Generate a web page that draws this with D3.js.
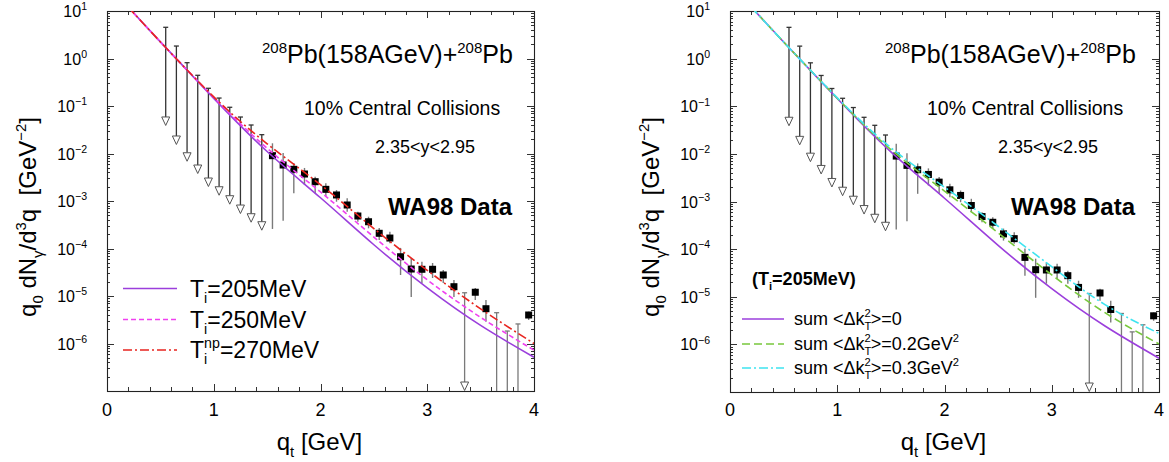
<!DOCTYPE html>
<html><head><meta charset="utf-8">
<script src="https://cdn.jsdelivr.net/npm/d3@7"></script>
<style>
body{margin:0;background:#fff}
svg{display:block}
text{font-family:"Liberation Sans",Arial,Helvetica,sans-serif;fill:#000}
</style>
</head><body>
<svg id="c" width="1169" height="462"></svg>
<script>
// ---------- data ----------
const xTicks = [0, 1, 2, 3, 4];
const xTickLabels = ["0", "1", "2", "3", "4"];
const yDecades = [1, 0, -1, -2, -3, -4, -5, -6];   // labelled decades (10^n)
const yDomain = [1e-7, 1e1];

// model curves (q_t in GeV, yield in GeV^-2)
const curveQ = [0.2, 0.5, 1.0, 1.5, 2.0, 2.5, 3.0, 3.5, 4.0];
const T205   = [12.0, 2.24, 0.145, 0.0110, 1.17e-3, 1.20e-4, 1.48e-5, 2.40e-6, 5.13e-7];
const T250   = [12.0, 2.24, 0.151, 0.0129, 1.55e-3, 1.74e-4, 2.19e-5, 3.55e-6, 7.24e-7];
const T270np = [12.0, 2.24, 0.156, 0.0160, 2.20e-3, 2.63e-4, 3.47e-5, 5.37e-6, 1.00e-6];
const kT0    = T205;
const kT02   = [12.0, 2.24, 0.148, 0.0123, 1.66e-3, 2.19e-4, 2.88e-5, 4.57e-6, 1.02e-6];
const kT03   = [12.0, 2.24, 0.151, 0.0135, 2.00e-3, 3.02e-4, 4.27e-5, 6.76e-6, 1.70e-6];

// WA98 upper limits
const limQ  = [0.55, 0.65, 0.75, 0.85, 0.95, 1.05, 1.15, 1.25, 1.35, 1.45, 3.35, 3.65, 3.75, 3.85];
const limHi = [4.54, 1.83, 0.816, 0.443, 0.236, 0.147, 0.094, 0.0586, 0.0398, 0.0249, 1.17e-5, 4.45e-6, 1.83e-6, 2.58e-6];
const limLo = [0.038, 0.0151, 0.0067, 0.0037, 0.00197, 0.00129, 8.36e-4, 5.32e-4, 3.49e-4, 2.37e-4, 1e-7, 1e-7, 1e-7, 1e-7];
const limArrow = [1, 1, 1, 1, 1, 1, 1, 1, 1, 1, 1, 0, 0, 0];

// WA98 data points
const ptQ   = [1.55, 1.65, 1.75, 1.85, 1.95, 2.05, 2.15, 2.25, 2.35, 2.45, 2.55, 2.65, 2.75, 2.85, 2.95, 3.05, 3.15, 3.25, 3.45, 3.55, 3.95];
const ptVal = [9.0e-3, 5.73e-3, 4.65e-3, 3.70e-3, 2.55e-3, 1.76e-3, 1.34e-3, 8.24e-4, 4.83e-4, 3.66e-4, 2.09e-4, 1.66e-4, 6.71e-5, 3.70e-5, 3.65e-5, 3.65e-5, 2.77e-5, 1.57e-5, 1.20e-5, 5.40e-6, 3.98e-6];
const ptLo  = [2.58e-4, 3.85e-4, 1.45e-3, 2.17e-3, 1.45e-3, 1.23e-3, 9.66e-4, 5.96e-4, 3.66e-4, 2.66e-4, 1.51e-4, 1.29e-4, 2.77e-5, 9.5e-6, 1.88e-5, 2.39e-5, 1.88e-5, 9.5e-6, 8.2e-6, 2.88e-6, 3.13e-6];
const ptHi  = [1.64e-2, 1.03e-2, 6.3e-3, 4.96e-3, 3.25e-3, 2.36e-3, 1.70e-3, 1.14e-3, 5.96e-4, 4.67e-4, 2.70e-4, 2.26e-4, 1.03e-4, 6.3e-5, 5.27e-5, 4.95e-5, 3.52e-5, 2.17e-5, 1.47e-5, 8.2e-6, 4.68e-6];

const leftSeries  = [T205, T250, T270np];
const rightSeries = [kT0, kT02, kT03];

// ---------- helpers ----------
const svg = d3.select("#c");

function rich(sel, parts, size) {
  let cur = 0;
  parts.forEach(p => {
    const k = p.k || "n";
    const fs = k === "n" ? size : size * (p.r || 0.62);
    const off = k === "sub" ? size * 0.28 : k === "sup" ? -size * 0.42 : 0;
    const ts = sel.append("tspan").attr("font-size", fs).attr("dy", (off - cur).toFixed(2)).text(p.t);
    if (p.stack) {
      const prev = ts.node().previousSibling;
      ts.attr("dx", -prev.getComputedTextLength());
    }
    cur = off;
  });
  return sel;
}

function panel(box, id) {
  const g = svg.append("g");
  const x = d3.scaleLinear().domain([0, 4]).range([box.x0, box.x1]);
  const y = d3.scaleLog().domain(yDomain).range([box.y1, box.y0]);

  g.append("clipPath").attr("id", id).append("rect")
    .attr("x", box.x0).attr("y", box.y0).attr("width", box.x1 - box.x0).attr("height", box.y1 - box.y0);

  // ticks
  const tk = g.append("g").attr("stroke", "#333").attr("stroke-width", 1);
  d3.range(0, 4.001, 0.2).forEach(v => {
    const major = xTicks.some(t => Math.abs(t - v) < 1e-6);
    const L = major ? 7 : 4;
    const px = Math.round(x(v)) + 0.5;
    tk.append("line").attr("x1", px).attr("x2", px).attr("y1", box.y1).attr("y2", box.y1 - L);
    tk.append("line").attr("x1", px).attr("x2", px).attr("y1", box.y0).attr("y2", box.y0 + L);
  });
  for (let e = -7; e <= 0; e++) {
    for (let m = 1; m <= 9; m++) {
      const v = m * Math.pow(10, e);
      const L = m === 1 ? 7 : 3;
      const py = Math.round(y(v)) + 0.5;
      tk.append("line").attr("x1", box.x0).attr("x2", box.x0 + L).attr("y1", py).attr("y2", py);
      tk.append("line").attr("x1", box.x1).attr("x2", box.x1 - L).attr("y1", py).attr("y2", py);
    }
  }
  g.append("rect").attr("x", box.x0 + 0.5).attr("y", box.y0 + 0.5)
    .attr("width", box.x1 - box.x0).attr("height", box.y1 - box.y0)
    .attr("fill", "none").attr("stroke", "#222").attr("stroke-width", 1.1);

  // tick labels
  xTicks.forEach((t, i) => {
    g.append("text").attr("x", x(t)).attr("y", 416).attr("text-anchor", "middle")
      .attr("font-size", 18).text(xTickLabels[i]);
  });
  yDecades.forEach(e => {
    const t = g.append("text").attr("x", box.x0 - 20).attr("y", y(Math.pow(10, e)) + 6)
      .attr("text-anchor", "end").attr("font-size", 16);
    rich(t, [{ t: "10" }, { t: e < 0 ? "\u2212" + (-e) : String(e), k: "sup", r: 0.66 }], 16);
  });

  // axis titles
  const xt = g.append("text").attr("x", (box.x0 + box.x1) / 2 - 1).attr("y", 450)
    .attr("text-anchor", "middle").attr("font-size", 24);
  rich(xt, [{ t: "q" }, { t: "t", k: "sub" }, { t: " [GeV]" }], 24);
  const yt = g.append("text").attr("transform", `translate(${box.x0 - 71},217) rotate(-90)`)
    .attr("text-anchor", "middle").attr("font-size", 24);
  rich(yt, [{ t: "q" }, { t: "0", k: "sub" }, { t: " dN" }, { t: "\u03B3", k: "sub" }, { t: "/d" },
            { t: "3", k: "sup" }, { t: "q\u00A0\u00A0[GeV" }, { t: "\u22122", k: "sup" }, { t: "]" }], 24);

  // annotations
  const t1 = g.append("text").attr("x", box.x0 + 155).attr("y", 63).attr("font-size", 25);
  rich(t1, [{ t: "208", k: "sup", r: 0.6 }, { t: "Pb(158AGeV)+" }, { t: "208", k: "sup", r: 0.6 }, { t: "Pb" }], 25);
  g.append("text").attr("x", box.x0 + 197).attr("y", 115).attr("font-size", 19.5).text("10% Central Collisions");
  g.append("text").attr("x", box.x0 + 268).attr("y", 153).attr("font-size", 18).text("2.35<y<2.95");
  g.append("text").attr("x", box.x0 + 281).attr("y", 215).attr("font-size", 24)
    .attr("font-weight", "bold").text("WA98 Data");

  // data
  const d = g.append("g").attr("clip-path", `url(#${id})`);
  limQ.forEach((q, i) => {
    const px = x(q), yh = y(limHi[i]), yl = y(limLo[i]);
    const col = q < 1.5 ? "#333" : "#7a7a7a";
    const tri = limArrow[i] === 1;
    d.append("line").attr("x1", px).attr("x2", px).attr("y1", yh).attr("y2", tri ? yl - 9 : yl)
      .attr("stroke", col).attr("stroke-width", 1.3);
    d.append("line").attr("x1", px - 2.5).attr("x2", px + 2.5).attr("y1", yh).attr("y2", yh)
      .attr("stroke", col).attr("stroke-width", 1.3);
    if (tri) {
      d.append("path").attr("d", `M${px - 4},${yl - 9}L${px + 4},${yl - 9}L${px},${yl - 0.5}Z`)
        .attr("fill", "#fff").attr("stroke", "#555").attr("stroke-width", 1);
    }
  });
  ptQ.forEach((q, i) => {
    d.append("line").attr("x1", x(q)).attr("x2", x(q)).attr("y1", y(ptHi[i])).attr("y2", y(ptLo[i]))
      .attr("stroke", "#7a7a7a").attr("stroke-width", 1.4);
  });
  ptQ.forEach((q, i) => {
    d.append("rect").attr("x", x(q) - 3.5).attr("y", y(ptVal[i]) - 3.5).attr("width", 7).attr("height", 7)
      .attr("fill", "#000");
  });

  return { g, x, y, d };
}

function drawCurves(P, series, styles) {
  const line = d3.line().x((v, i) => P.x(curveQ[i])).y(v => P.y(v)).curve(d3.curveNatural);
  series.forEach((s, i) => {
    P.d.append("path").attr("d", line(s)).attr("fill", "none")
      .attr("stroke", styles[i].c).attr("stroke-width", 1.6)
      .attr("stroke-dasharray", styles[i].dash || null);
  });
}

// ---------- panels ----------
const leftStyles = [
  { c: "#9b3fdc" },
  { c: "#f040f0", dash: "5,3" },
  { c: "#e8251f", dash: "9,3,2,3" }
];
const rightStyles = [
  { c: "#9b3fdc" },
  { c: "#78c83c", dash: "8,4" },
  { c: "#3ee4f0", dash: "9,3,2,3" }
];

const L = panel({ x0: 107, x1: 534, y0: 11, y1: 391 }, "clipL");
drawCurves(L, leftSeries, leftStyles);
const R = panel({ x0: 730, x1: 1159, y0: 11, y1: 392 }, "clipR");
drawCurves(R, rightSeries, rightStyles);

// left legend
const legL = [
  [{ t: "T" }, { t: "i", k: "sub" }, { t: "=205MeV" }],
  [{ t: "T" }, { t: "i", k: "sub" }, { t: "=250MeV" }],
  [{ t: "T" }, { t: "i", k: "sub" }, { t: "np", k: "sup", stack: true }, { t: "=270MeV" }]
];
const legLY = [288.5, 319.5, 350];
legL.forEach((parts, i) => {
  L.g.append("line").attr("x1", 123).attr("x2", 177).attr("y1", legLY[i]).attr("y2", legLY[i])
    .attr("stroke", leftStyles[i].c).attr("stroke-width", 1.6)
    .attr("stroke-dasharray", leftStyles[i].dash || null);
  const t = L.g.append("text").attr("x", 190).attr("y", legLY[i] + 8).attr("font-size", 23);
  rich(t, parts, 23);
});

// right legend
const rt = R.g.append("text").attr("x", 752).attr("y", 285).attr("font-size", 18).attr("font-weight", "bold");
rich(rt, [{ t: "(T" }, { t: "i", k: "sub" }, { t: "=205MeV)" }], 18);
const legR = [
  [{ t: "sum <\u0394k" }, { t: "T", k: "sub" }, { t: "2", k: "sup", stack: true }, { t: ">=0" }],
  [{ t: "sum <\u0394k" }, { t: "T", k: "sub" }, { t: "2", k: "sup", stack: true }, { t: ">=0.2GeV" }, { t: "2", k: "sup" }],
  [{ t: "sum <\u0394k" }, { t: "T", k: "sub" }, { t: "2", k: "sup", stack: true }, { t: ">=0.3GeV" }, { t: "2", k: "sup" }]
];
const legRY = [319, 344, 368];
legR.forEach((parts, i) => {
  R.g.append("line").attr("x1", 742).attr("x2", 784).attr("y1", legRY[i]).attr("y2", legRY[i])
    .attr("stroke", rightStyles[i].c).attr("stroke-width", 1.6)
    .attr("stroke-dasharray", rightStyles[i].dash || null);
  const t = R.g.append("text").attr("x", 794).attr("y", legRY[i] + 6).attr("font-size", 18);
  rich(t, parts, 18);
});
</script>
</body></html>
